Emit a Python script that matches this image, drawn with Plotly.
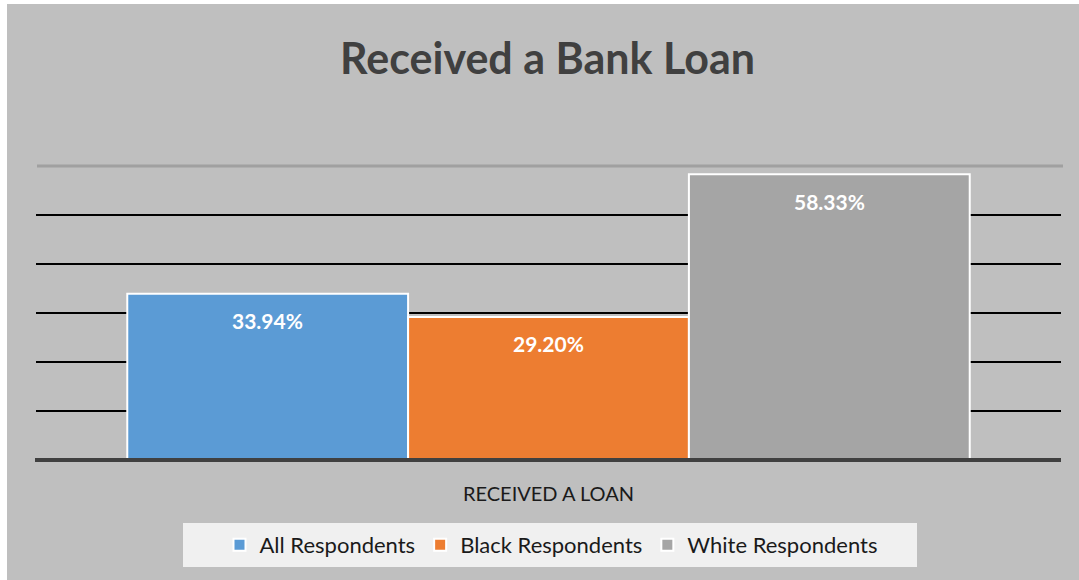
import plotly.graph_objects as go

# Survey result: share of respondents who received a bank loan
series_names = ["All Respondents", "Black Respondents", "White Respondents"]
series_values = [33.94, 29.20, 58.33]
series_colors = ["#5b9bd5", "#ed7d31", "#a5a5a5"]
category = "RECEIVED A LOAN"
grid_values = [10, 20, 30, 40, 50]

W, H = 1079, 580
L, R, T, B = 36, 18, 166, 120
plot_w = W - L - R
plot_h = H - T - B


def px_x(p):
    return (p - L) / plot_w


def px_y(p):
    return (H - B - p) / plot_h


FONT = "Lato"

fig = go.Figure()
for i, (name, val, col) in enumerate(zip(series_names, series_values, series_colors)):
    fig.add_trace(go.Bar(
        x=[i], y=[val], width=1, name=name,
        marker=dict(color=col, line=dict(color="white", width=2)),
        hoverinfo="skip",
    ))
    fig.add_annotation(
        x=i, y=val, xref="x", yref="y", text=f"<b>{val:.2f}%</b>",
        showarrow=False, yanchor="middle", yshift=-27,
        font=dict(family=FONT, size=21, color="white"),
    )

shapes = [
    # chart background panel
    dict(type="rect", xref="paper", yref="paper", layer="below",
         x0=px_x(7), x1=px_x(W + 2), y0=px_y(H + 2), y1=px_y(4),
         fillcolor="#bfbfbf", line=dict(width=0)),
    # legend panel
    dict(type="rect", xref="paper", yref="paper", layer="below",
         x0=px_x(183), x1=px_x(917), y0=px_y(567), y1=px_y(523),
         fillcolor="#f0f0f0", line=dict(width=0)),
    # top gridline
    dict(type="line", xref="paper", yref="paper", layer="below",
         x0=px_x(37), x1=px_x(1063), y0=1, y1=1,
         line=dict(color="#a0a0a0", width=3)),
    # baseline
    dict(type="line", xref="paper", yref="paper", layer="above",
         x0=px_x(35), x1=1, y0=0, y1=0,
         line=dict(color="#404040", width=4)),
]

fig.update_layout(
    width=W, height=H,
    margin=dict(l=L, r=R, t=T, b=B, pad=0),
    paper_bgcolor="white",
    plot_bgcolor="rgba(0,0,0,0)",
    barmode="overlay",
    shapes=shapes,
    title=dict(text="<b>Received a Bank Loan</b>", x=547.5 / W, xanchor="center",
               y=1 - 59 / H, yanchor="middle", yref="container",
               font=dict(family=FONT, size=43, color="#404040")),
    showlegend=True,
    legend=dict(orientation="h", x=px_x(551), xanchor="center",
                y=px_y(545), yanchor="middle",
                bgcolor="rgba(0,0,0,0)",
                font=dict(family=FONT, size=22, color="#1a1a1a"),
                itemclick=False, itemdoubleclick=False),
    xaxis=dict(range=[-0.825, 2.825], tickvals=[1], ticktext=[category],
               showgrid=False, zeroline=False, showline=False, ticks="",
               ticklabelstandoff=20,
               tickfont=dict(family=FONT, size=20, color="#1a1a1a"), fixedrange=True),
    yaxis=dict(range=[0, 60], tickvals=grid_values, showticklabels=False,
               showgrid=True, gridcolor="black", gridwidth=2,
               zeroline=False, showline=False, fixedrange=True),
)

fig.write_html("out.html")
